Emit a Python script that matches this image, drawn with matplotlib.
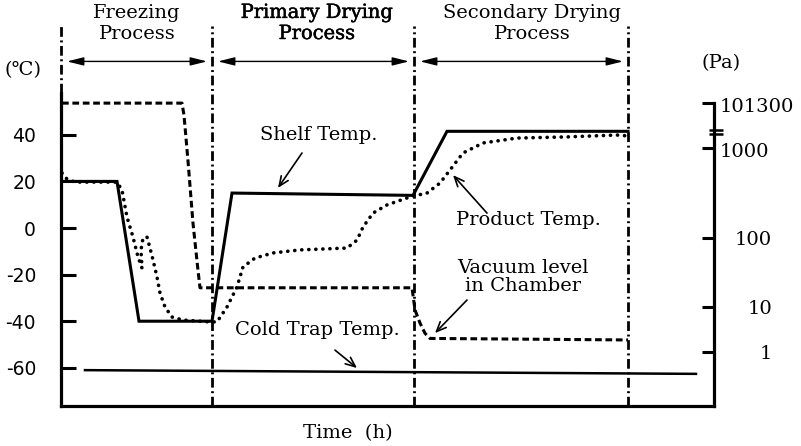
import numpy as np
import matplotlib
matplotlib.use("Agg")
import matplotlib.pyplot as plt
from matplotlib.transforms import blended_transform_factory, ScaledTranslation
import matplotlib.patheffects as pe

# ---------------- data ----------------
phase_names = ["Freezing\nProcess", "Primary Drying\nProcess", "Secondary Drying\nProcess"]
phase_bounds_h = [0.0, 6.04, 14.12, 22.68]

shelf_time = [0.0, 2.24, 3.12, 6.04, 6.84, 14.08, 15.44, 22.68]
shelf_temp = [20.0, 20.0, -40.0, -40.0, 15.0, 14.0, 41.5, 41.5]

product_time = [0.04, 0.24, 0.56, 2.24, 2.44, 2.64, 2.88, 3.08, 3.24, 3.20, 3.28, 3.44,
                3.56, 3.68, 3.84, 3.96, 4.16, 4.44, 4.88, 5.96, 6.24, 6.64, 7.04, 7.28,
                7.76, 8.48, 9.56, 11.44, 11.84, 12.08, 12.48, 13.04, 13.84, 14.08, 14.64,
                15.16, 15.56, 16.08, 16.88, 18.24, 20.24, 22.24, 22.68]
product_temp = [23.6, 21.0, 19.7, 19.7, 16.3, 4.7, -3.9, -12.4, -17.2, -9.4, -4.3, -3.9,
                -8.6, -13.7, -21.0, -27.9, -33.9, -38.2, -39.5, -40.3, -40.3, -33.9, -25.3,
                -16.7, -12.9, -10.7, -9.4, -8.6, -5.2, 0.4, 6.4, 9.9, 12.9, 13.7, 15.0,
                19.3, 24.9, 32.2, 36.5, 38.6, 39.1, 39.9, 39.5]

vacuum_time = [0.04, 4.76, 4.84, 4.92, 5.08, 5.28, 5.48, 5.56, 14.04, 14.16, 14.36, 14.56,
               14.76, 22.68]
vacuum_pa = [101300, 101300, 101300, 29000, 720, 146, 34, 19, 19, 8.6, 4.4, 2.6, 2.0, 1.85]

cold_time = [0.96, 25.4]
cold_temp = [-61.0, -62.6]

temp_ticks = [40, 20, 0, -20, -40, -60]
pressure_ticks = [1, 10, 100, 1000, 101300]
pressure_labels = ["1", "10", "100", "1000", "101300"]

# ---------------- pressure axis scale (schematic, non-uniform) ----------------
_logs = np.log10(np.array(pressure_ticks, dtype=float))
_pos = np.array([-53.2, -33.9, -4.3, 34.3, 53.6])
_s_lo = (_pos[1] - _pos[0]) / (_logs[1] - _logs[0])
_s_hi = (_pos[-1] - _pos[-2]) / (_logs[-1] - _logs[-2])


def p_forward(p):
    p = np.asarray(p, dtype=float)
    l = np.log10(np.clip(p, 1e-30, None))
    out = np.interp(l, _logs, _pos)
    out = np.where(l < _logs[0], _pos[0] + (l - _logs[0]) * _s_lo, out)
    out = np.where(l > _logs[-1], _pos[-1] + (l - _logs[-1]) * _s_hi, out)
    return out


def p_inverse(y):
    y = np.asarray(y, dtype=float)
    l = np.interp(y, _pos, _logs)
    l = np.where(y < _pos[0], _logs[0] + (y - _pos[0]) / _s_lo, l)
    l = np.where(y > _pos[-1], _logs[-1] + (y - _pos[-1]) / _s_hi, l)
    return 10.0 ** l


# ---------------- figure ----------------
W, H = 801, 446
fig = plt.figure(figsize=(W / 100, H / 100), dpi=100)
ax = fig.add_axes([61 / W, 40 / H, (714 - 61) / W, (406 - 26) / H])
ax.set_facecolor("none")

serif = ["DejaVu Serif", "DejaVu Sans"]
FS = 14

T_LO, T_HI = -76.39, 86.7
ax.set_xlim(0, 26.12)
ax.set_ylim(T_LO, T_HI)

# spines
for s in ["top", "right"]:
    ax.spines[s].set_visible(False)
ax.spines["left"].set_linewidth(2.3)
ax.spines["bottom"].set_linewidth(2.3)
ax.spines["left"].set_bounds(T_LO, 57.9)
ax.set_xticks([])
ax.set_yticks(temp_ticks)
ax.set_yticklabels([str(t) for t in temp_ticks], fontfamily="DejaVu Sans", fontsize=13.5)
ax.tick_params(axis="y", direction="in", length=10.5, width=2.2, pad=18)

# pressure axis
ax2 = ax.twinx()
ax2.set_yscale("function", functions=(p_forward, p_inverse))
ax2.set_ylim(float(p_inverse(T_LO)), float(p_inverse(T_HI)))
for s in ["top", "left", "bottom"]:
    ax2.spines[s].set_visible(False)
ax2.spines["right"].set_linewidth(2.3)
ax2.spines["right"].set_bounds(float(p_inverse(T_LO)), 101300)
ax2.set_yticks(pressure_ticks)
ax2.yaxis.set_minor_locator(matplotlib.ticker.NullLocator())
ax2.tick_params(axis="y", direction="in", length=8.6, width=2.2, labelright=False)
bt = blended_transform_factory(ax2.transAxes, ax2.transData)
for p, lbl in zip(pressure_ticks, pressure_labels):
    if p >= 1000:
        off = ScaledTranslation(0.06, -0.04, fig.dpi_scale_trans)
        ha = "left"
    else:
        off = ScaledTranslation(0.58, -0.02, fig.dpi_scale_trans)
        ha = "right"
    ax2.text(1, p, lbl, transform=bt + off, ha=ha, va="center",
             fontfamily=serif, fontsize=FS, clip_on=False)

# axis break marks on the pressure axis
bta = blended_transform_factory(ax.transAxes, ax.transData)
for yb in (42.1, 40.3):
    ax.plot([0.992, 1.0138], [yb, yb], transform=bta, color="black", lw=1.8,
            clip_on=False, solid_capstyle="butt")

# phase boundaries (dash-dot)
dashdot = (0, (3.5, 1.3, 0.7, 1.3))
ax.plot([0, 0], [57.9, T_HI], color="black", lw=2.0, linestyle=dashdot, clip_on=False)
for tb in phase_bounds_h[1:]:
    ax.plot([tb, tb], [T_LO, T_HI], color="black", lw=2.0, linestyle=dashdot, clip_on=False)

# curves
ax.plot(shelf_time, shelf_temp, color="black", lw=2.2, solid_joinstyle="miter", zorder=4)
ax.plot(product_time, product_temp, color="black", lw=2.6, linestyle=(0, (0.05, 1.9)),
        dash_capstyle="round", zorder=4)
ax.plot(cold_time, cold_temp, color="black", lw=1.8, zorder=4)
ax2.plot(vacuum_time, vacuum_pa, color="black", lw=2.2, linestyle=(0, (2.2, 1.2)), zorder=4)

# phase arrows & titles
arrow_y = 71.5
for i in range(3):
    a, b = phase_bounds_h[i], phase_bounds_h[i + 1]
    ax.annotate("", xy=(b - 0.2, arrow_y), xytext=(a + 0.24, arrow_y),
                arrowprops=dict(arrowstyle="<|-|>,head_length=1.0,head_width=0.25",
                                lw=1.0, color="black", shrinkA=0, shrinkB=0),
                annotation_clip=False)
title_x = [3.04, 10.24, 18.84]
for i, (name, tx) in enumerate(zip(phase_names, title_x)):
    t = ax.text(tx, 87.8, name, ha="center", va="center", fontfamily=serif, fontsize=FS,
                linespacing=1.22, clip_on=False)
    if i == 1:
        t.set_path_effects([pe.Stroke(linewidth=0.35, foreground="black"), pe.Normal()])

# curve labels
arrow_kw = dict(arrowstyle="->,head_length=0.7,head_width=0.3", lw=1.2, color="black",
                shrinkA=0, shrinkB=0)
ax.text(10.32, 39.9, "Shelf Temp.", ha="center", va="center", fontfamily=serif, fontsize=FS)
ax.annotate("", xy=(8.68, 17.2), xytext=(9.64, 32.2), arrowprops=arrow_kw)
ax.text(18.68, 3.4, "Product Temp.", ha="center", va="center", fontfamily=serif, fontsize=FS)
ax.annotate("", xy=(15.68, 22.7), xytext=(17.04, 6.4), arrowprops=arrow_kw)
ax.text(18.48, -21.2, "Vacuum level\nin Chamber", ha="center", va="center",
        fontfamily=serif, fontsize=FS, linespacing=1.0)
ax.annotate("", xy=(14.96, -45.1), xytext=(16.24, -30.9), arrowprops=arrow_kw)
ax.text(10.24, -43.8, "Cold Trap Temp.", ha="center", va="center", fontfamily=serif, fontsize=FS)
ax.annotate("", xy=(11.84, -60.1), xytext=(10.96, -52.4), arrowprops=arrow_kw)

# units and axis title
fig.text(23 / W, 1 - 70 / H, "(℃)", ha="center", va="center", fontfamily=serif, fontsize=FS)
fig.text(721 / W, 1 - 63 / H, "(Pa)", ha="center", va="center", fontfamily=serif, fontsize=FS)
fig.text(348 / W, 1 - 433 / H, "Time  (h)", ha="center", va="center", fontfamily=serif, fontsize=FS)

fig.savefig("out.png", dpi=100)
